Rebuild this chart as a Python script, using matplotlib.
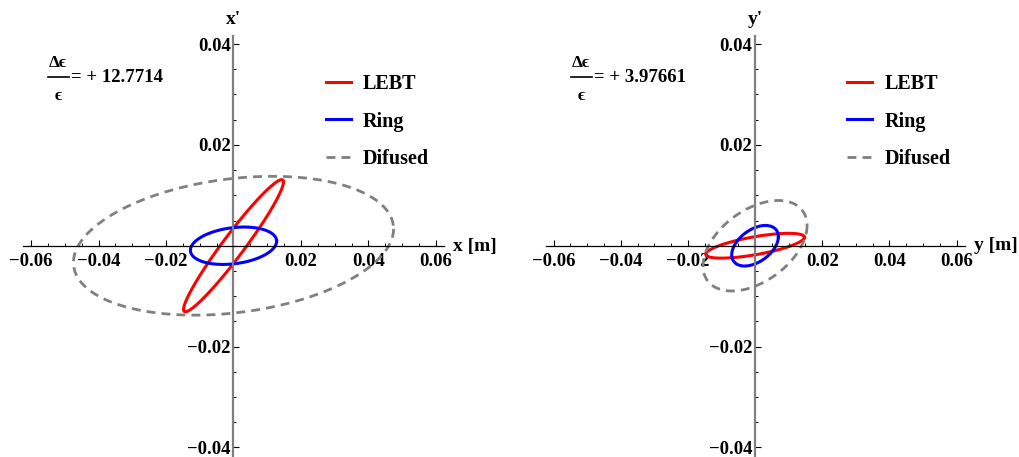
import numpy as np
import matplotlib
matplotlib.use("Agg")
import matplotlib.pyplot as plt
from matplotlib.ticker import MultipleLocator, FixedLocator, FuncFormatter

# Twiss parameters (alpha, beta [m], emittance [m rad]) of each ellipse
lebt_x = dict(alpha=-3.59, beta=4.21, emit=5.2e-5)
ring_x = dict(alpha=-0.25, beta=3.55, emit=4.6e-5)
lebt_y = dict(alpha=-0.93, beta=8.15, emit=2.65e-5)
ring_y = dict(alpha=-0.50, beta=1.93, emit=2.5e-5)

# relative emittance growth after filamentation in the ring
growth_x = 12.7714
growth_y = 3.97661

series_labels = ["LEBT", "Ring", "Difused"]
major_x = [-0.06, -0.04, -0.02, 0.02, 0.04, 0.06]
major_y = [-0.04, -0.02, 0.02, 0.04]

W, H = 1020, 457
fig = plt.figure(figsize=(W / 100, H / 100), dpi=100)
SERIF = ["Liberation Serif", "DejaVu Serif"]
plt.rcParams["font.family"] = SERIF
plt.rcParams["font.weight"] = "bold"

YLIM = (-0.0419, 0.0415)


def ellipse(alpha, beta, emit, n=600):
    t = np.linspace(0, 2 * np.pi, n)
    u = np.sqrt(emit * beta) * np.cos(t)
    up = -np.sqrt(emit / beta) * (alpha * np.cos(t) + np.sin(t))
    return u, up


def px(x, y):
    return x / W, 1 - y / H


def panel(rect, lebt, ring, growth):
    ax = fig.add_axes(rect)
    ax.set_xlim(-0.0624, 0.0624)
    ax.set_ylim(*YLIM)
    for s in ("top", "right"):
        ax.spines[s].set_visible(False)
    ax.spines["left"].set_position(("data", 0))
    ax.spines["bottom"].set_position(("data", 0))
    ax.spines["left"].set_color("#808080")
    ax.spines["left"].set_linewidth(1.6)
    ax.spines["bottom"].set_color("black")
    ax.spines["bottom"].set_linewidth(0.9)

    ax.xaxis.set_major_locator(FixedLocator(major_x))
    ax.yaxis.set_major_locator(FixedLocator(major_y))
    ax.xaxis.set_minor_locator(MultipleLocator(0.005))
    ax.yaxis.set_minor_locator(MultipleLocator(0.005))
    fmt = FuncFormatter(lambda v, p: ("\u2212" if v < 0 else "") + f"{abs(v):.2f}")
    ax.xaxis.set_major_formatter(fmt)
    ax.yaxis.set_major_formatter(fmt)
    ax.tick_params(which="major", direction="in", length=4, width=0.8,
                   labelsize=13.5, color="black")
    ax.tick_params(which="minor", direction="in", length=2.4, width=0.7,
                   color="black")
    ax.tick_params(axis="x", pad=5)
    ax.tick_params(axis="y", pad=2)
    for lab in ax.get_xticklabels() + ax.get_yticklabels():
        lab.set_fontweight("bold")

    u, up = ellipse(**lebt)
    ax.plot(u, up, color="#ff0000", lw=2.2, label=series_labels[0])
    u, up = ellipse(**ring)
    ax.plot(u, up, color="#0000ff", lw=2.2, label=series_labels[1])
    diff = dict(ring, emit=ring["emit"] * (1 + growth))
    u, up = ellipse(**diff)
    ax.plot(u, up, color="#808080", lw=2.0, ls=(0, (3.2, 2.2)),
            label=series_labels[2])

    ax.legend(loc="upper left", bbox_to_anchor=(0.676, 0.953),
              frameon=False, handlelength=1.25,
              handletextpad=0.6, labelspacing=0.85,
              prop={"family": SERIF, "weight": "bold", "size": 14.5})
    ax.patch.set_alpha(0)
    return ax


sy = 420.2 / (YLIM[1] - YLIM[0])
hgt = (YLIM[1] - YLIM[0]) * 5042
ax1 = panel([22.9 / W, 0.0, 421.2 / W, hgt / H], lebt_x, ring_x, growth_x)
ax2 = panel([545.5 / W, 0.0, 419.1 / W, hgt / H], lebt_y, ring_y, growth_y)

# axis names
for cx, name in ((233.5, "x'"), (755, "y'")):
    fig.text(*px(cx, 19), name, ha="center", va="center", fontsize=14,
             fontweight="bold", family=SERIF)
for lx, name in ((453, "x [m]"), (974, "y [m]")):
    fig.text(*px(lx, 246), name, ha="left", va="center", fontsize=14,
             fontweight="bold", family=SERIF)

# emittance growth annotations
for x0, g in ((48, growth_x), (571, growth_y)):
    fig.text(*px(x0 + 10, 63), "\u0394\u03f5", ha="center", va="center",
             fontsize=12.5, fontweight="bold", family=SERIF)
    fig.text(*px(x0 + 10, 96), "\u03f5", ha="center", va="center",
             fontsize=12.5, fontweight="bold", family=SERIF)
    fig.add_artist(plt.Line2D([px(x0, 0)[0], px(x0 + 21, 0)[0]],
                              [px(0, 76.5)[1]] * 2, color="black", lw=1.2))
    fig.text(*px(x0 + 23, 77.5), f"= + {g:g}", ha="left", va="center",
             fontsize=13.5, fontweight="bold", family=SERIF)

fig.savefig("out.png", dpi=100)
